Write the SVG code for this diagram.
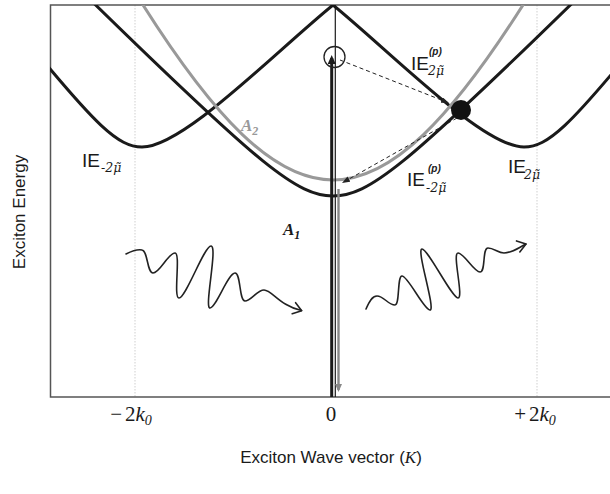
<svg xmlns="http://www.w3.org/2000/svg" width="610" height="494" viewBox="0 0 610 494">
<defs>
<style>
.curve{fill:none;stroke:#1a1a1a;stroke-width:3}
.gcurve{fill:none;stroke:#999;stroke-width:3}
.grid{stroke:#cfcfcf;stroke-width:1;stroke-dasharray:1.5,1.5}
.frame{fill:none;stroke:#555;stroke-width:1.5}
.wave{fill:none;stroke:#222;stroke-width:1.6;stroke-linecap:round;stroke-linejoin:round}
.dash{fill:none;stroke:#222;stroke-width:1;stroke-dasharray:4,3}
.lbl{font-family:'Liberation Sans',Arial,sans-serif;font-size:19px;fill:#1a1a1a}
.sub{font-family:'DejaVu Serif','Liberation Serif',serif;font-style:italic;font-size:12.5px;fill:#1a1a1a}
.sup{font-family:'Liberation Sans',Arial,sans-serif;font-style:italic;font-weight:bold;font-size:10px;fill:#1a1a1a}
.tick{font-family:'Liberation Serif','Times New Roman',serif;font-size:21px;fill:#1a1a1a}
.axt{font-family:'Liberation Sans',Arial,sans-serif;font-size:17px;fill:#1a1a1a}
.alab{font-family:'Liberation Serif','Times New Roman',serif;font-style:italic;font-weight:bold;font-size:17px}
</style>
<clipPath id="plot"><rect x="50" y="5" width="560" height="392"/></clipPath>
<marker id="ah" viewBox="0 0 8 6" refX="8" refY="3" markerWidth="8" markerHeight="6" markerUnits="userSpaceOnUse" orient="auto"><path d="M0,0L8,3L0,6z" fill="#222"/></marker>
<marker id="ahBig" viewBox="0 0 9 8" refX="6" refY="4" markerWidth="9" markerHeight="8" markerUnits="userSpaceOnUse" orient="auto"><path d="M0,0L9,4L0,8z" fill="#1a1a1a"/></marker>
<marker id="ahGray" viewBox="0 0 8 7" refX="6" refY="3.5" markerWidth="8" markerHeight="7" markerUnits="userSpaceOnUse" orient="auto"><path d="M0,0L8,3.5L0,7z" fill="#888"/></marker>
</defs>
<rect width="610" height="494" fill="#fff"/>
<g id="grid">
<line class="grid" x1="135" y1="5" x2="135" y2="397"/>
<line class="grid" x1="537" y1="5" x2="537" y2="397"/>
</g>
<g id="frame"><path class="frame" d="M610,5H50.5V397H610"/></g>
<g id="connectors" clip-path="url(#plot)">
<path id="E-2mu" class="curve" d="M345,-5L333,5C273,54 183,147 142,147C118,147 95.6,125 26,40"/>
<path id="E2mu" class="curve" d="M321,-5L333,5C393,54 483,147 524,147C548,147 570.4,125 640,40"/>
<path id="A2-curve" class="gcurve" d="M133,-11C215.6,122.7 275.6,180 333,180C390.4,180 450.4,122.7 533,-11"/>
<path id="A1-curve" class="curve" d="M93,2.4C261.5,167 297.5,196 333,196C368.5,196 404.5,167 573,2.4"/>
<line x1="335.3" y1="5" x2="335.3" y2="397" stroke="#1a1a1a" stroke-width="1.2"/>
<line x1="331.7" y1="402" x2="331.7" y2="58" stroke="#1a1a1a" stroke-width="3" marker-end="url(#ahBig)"/>
<line x1="338.5" y1="189" x2="338.5" y2="390" stroke="#888" stroke-width="2.4" marker-end="url(#ahGray)"/>
<path class="dash" d="M340,60L449,103" marker-end="url(#ah)"/>
<path class="dash" d="M457,118L342,183" marker-end="url(#ah)"/>
</g>
<g id="points">
<circle cx="334.5" cy="57" r="10.5" fill="none" stroke="#222" stroke-width="1.3"/>
<circle cx="461" cy="110" r="10" fill="#111"/>
</g>
<g id="waves">
<path class="wave" d="M126,254C132,251 137,249 142,250C148,251 147,273 153,273C160,273 168,253 175,253C181,253 173,298 179,298C186,298 204,246 211,246C218,246 204,308 210,308C216,308 228,273 235,273C241,273 239,301 245,301C251,301 257,290 264,290C272,290 280,306 301.5,310.5"/>
<polyline class="wave" points="295.6,302.7 301.7,310.7 292.2,313.7"/>
<path class="wave" d="M366,309C369,302 372,296 377,296C384,296 388,305 395,305C400,305 397,276 402,276C408,276 424,310 430,310C436,310 416,249 422,249C428,249 452,298 458,298C464,298 452,253 458,253C464,253 474,272 480,272C486,272 482,248 488,248C494,248 498,253 504,253C512,253 518,248 526,244"/>
<polyline class="wave" points="516.5,240.9 526,244 519.8,251.9"/>
</g>
<g id="labels">
<text class="lbl" x="82" y="167">IE</text><text class="sub" x="101" y="172">-2μ̃</text>
<text class="lbl" x="411" y="70">IE</text><text class="sup" x="429" y="55">(p)</text><text class="sub" x="428" y="75">2μ̃</text>
<text class="lbl" x="407" y="186">IE</text><text class="sup" x="428" y="172">(p)</text><text class="sub" x="426" y="192">-2μ̃</text>
<text class="lbl" x="508" y="173">IE</text><text class="sub" x="524" y="179">2μ̃</text>
<text class="alab" x="241" y="131" fill="#999">A<tspan font-size="12" dy="4">2</tspan></text>
<text class="alab" x="283" y="235" fill="#1a1a1a">A<tspan font-size="12" dy="4">1</tspan></text>
</g>
<g id="axes-text">
<text class="tick" x="131" y="421" text-anchor="middle">−<tspan dx="3">2</tspan><tspan font-style="italic">k</tspan><tspan font-style="italic" font-size="14" dy="4">0</tspan></text>
<text class="tick" x="331" y="421" text-anchor="middle">0</text>
<text class="tick" x="535" y="421" text-anchor="middle">+<tspan dx="3">2</tspan><tspan font-style="italic">k</tspan><tspan font-style="italic" font-size="14" dy="4">0</tspan></text>
<text class="axt" x="331" y="463" text-anchor="middle">Exciton Wave vector (<tspan font-family="'Liberation Serif',serif" font-style="italic">K</tspan>)</text>
<text class="axt" transform="translate(25,212) rotate(-90)" text-anchor="middle">Exciton Energy</text>
</g>
</svg>
